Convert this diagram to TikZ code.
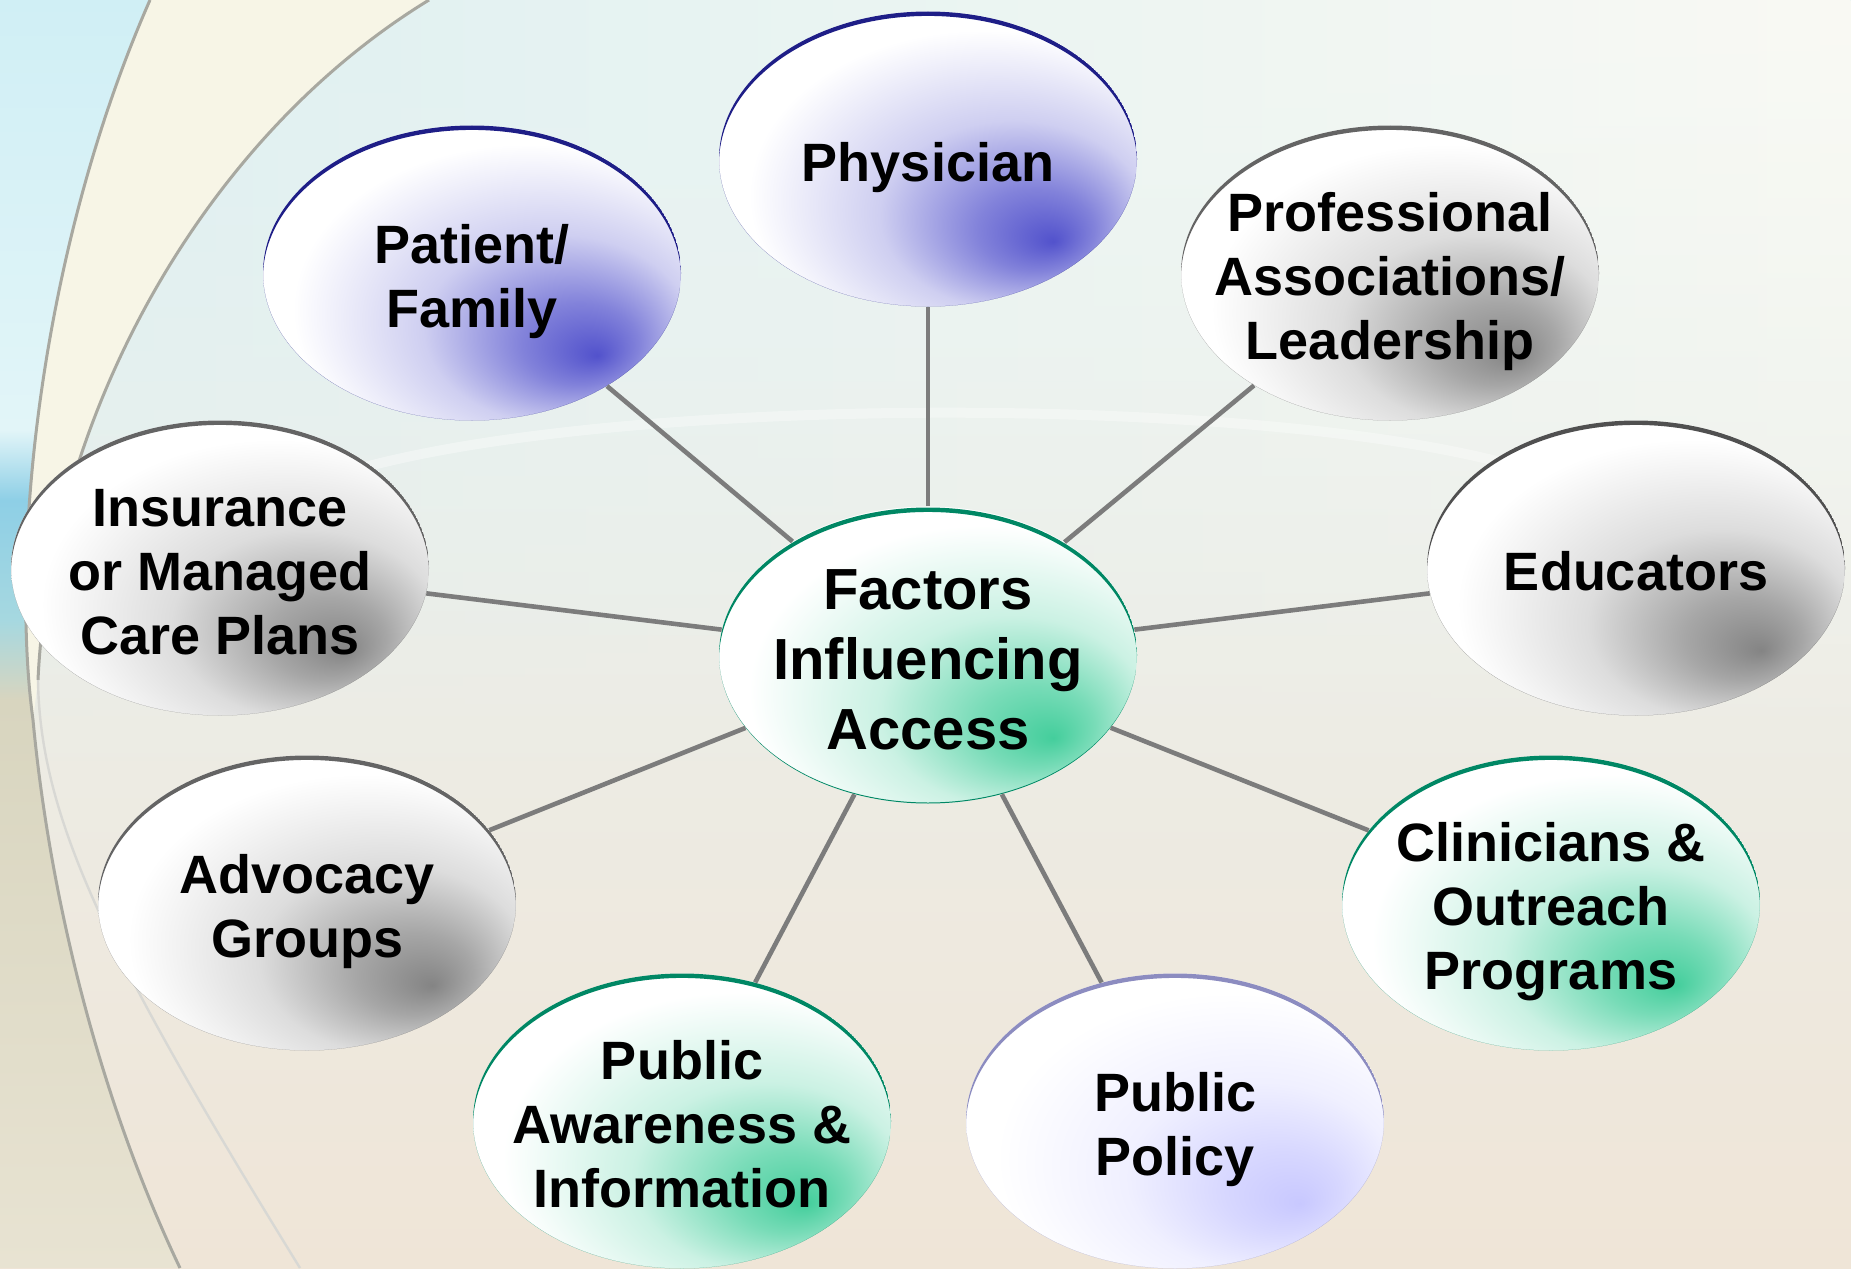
\documentclass[tikz,border=0pt]{standalone}
\usepackage{fontspec}
\setmainfont{Liberation Sans}
\usepackage{tikz}
\usetikzlibrary{shapes.geometric,calc,fadings}

\definecolor{navyedge}{RGB}{30,30,135}
\definecolor{bluespot}{RGB}{82,82,204}
\definecolor{grayedge}{RGB}{100,100,100}
\definecolor{grayspot}{RGB}{132,132,132}
\definecolor{greenedge}{RGB}{0,135,100}
\definecolor{greenspot}{RGB}{68,206,156}
\definecolor{lavedge}{RGB}{140,140,192}
\definecolor{lavspot}{RGB}{200,200,255}
\definecolor{linkgray}{RGB}{124,124,124}
\definecolor{bgtop}{RGB}{234,245,246}
\definecolor{bgmid}{RGB}{242,243,236}
\definecolor{bgbeige}{RGB}{239,229,215}
\definecolor{bgcyan}{RGB}{220,239,241}
\definecolor{bgcream}{RGB}{250,250,243}
\definecolor{stripcyan}{RGB}{208,239,245}
\definecolor{strippale}{RGB}{226,245,248}
\definecolor{stripblue}{RGB}{142,207,230}
\definecolor{stripteal}{RGB}{166,216,224}
\definecolor{striptan}{RGB}{216,213,191}
\definecolor{striplight}{RGB}{232,227,210}
\definecolor{arccream}{RGB}{247,245,230}
\definecolor{arcgray}{RGB}{168,168,160}

\pgfdeclareradialshading{bluefade}{\pgfpoint{15bp}{-14bp}}{color(0bp)=(bluespot); color(7bp)=(bluespot!72!white); color(16bp)=(bluespot!28!white); color(28bp)=(white); color(50bp)=(white)}
\pgfdeclareradialshading{grayfade}{\pgfpoint{15bp}{-14bp}}{color(0bp)=(grayspot); color(7bp)=(grayspot!72!white); color(16bp)=(grayspot!28!white); color(28bp)=(white); color(50bp)=(white)}
\pgfdeclareradialshading{greenfade}{\pgfpoint{15bp}{-14bp}}{color(0bp)=(greenspot); color(7bp)=(greenspot!72!white); color(16bp)=(greenspot!28!white); color(28bp)=(white); color(50bp)=(white)}
\pgfdeclareradialshading{lavfade}{\pgfpoint{15bp}{-14bp}}{color(0bp)=(lavspot); color(7bp)=(lavspot!72!white); color(16bp)=(lavspot!28!white); color(28bp)=(white); color(50bp)=(white)}
\tikzfading[name=fadedown, top color=transparent!0, bottom color=transparent!100]

\newcommand{\factortext}[1]{\raisebox{-5pt}[\height][\depth]{\makebox[0pt]{\begin{tabular}{@{}c@{}}#1\end{tabular}}}}

\tikzset{
  factor/.style={ellipse, minimum width=209pt, minimum height=147.5pt,
    inner sep=0pt, font=\bfseries\fontsize{27pt}{32pt}\selectfont},
  bubble/.style 2 args={factor, shade, shading=#1, path picture={
    \fill[#2, even odd rule] (path picture bounding box.center) ellipse (104.5pt and 73.75pt)
      ($(path picture bounding box.center)!0.03!(path picture bounding box.south)$) ellipse (104.5pt and 73.75pt);}},
  hub/.style={bubble={greenfade}{greenedge}, font=\bfseries\fontsize{29pt}{35pt}\selectfont},
  link/.style={draw=linkgray, line width=2.3pt},
}

\begin{document}
\begin{tikzpicture}[x=0.5pt,y=0.5pt,yscale=-1,xscale=1]
\useasboundingbox (0,0) rectangle (1851,1268);

%Background
\begin{scope}
\clip (0,0) rectangle (1851,1268);
\shade[top color=bgtop, middle color=bgmid, bottom color=bgbeige] (0,0) rectangle (1851,1268);
\shade[left color=bgcyan, right color=bgcream, path fading=fadedown] (0,0) rectangle (1851,760);
\draw[white, line width=5pt, opacity=0.35] (354,470) .. controls (620,395) and (1240,395) .. (1500,462);
%Left strip
\begin{scope}
\clip (0,0) -- (150,0) .. controls (40,250) and (10,550) .. (33,720) .. controls (50,900) and (100,1100) .. (180,1268) -- (0,1268) -- cycle;
\shade[top color=stripcyan, bottom color=strippale] (0,0) rectangle (200,430);
\shade[top color=strippale, bottom color=stripblue] (0,430) rectangle (200,500);
\shade[top color=stripblue, bottom color=stripteal] (0,500) rectangle (200,620);
\shade[top color=stripteal, bottom color=striptan] (0,620) rectangle (200,700);
\shade[top color=striptan, bottom color=striplight] (0,700) rectangle (200,1268);
\end{scope}
%Crescent between the arcs
\fill[arccream] (150,0) .. controls (40,250) and (10,550) .. (33,720) -- (38,680) .. controls (50,420) and (200,140) .. (429,0) -- cycle;
%Curve Lines
\draw[arcgray, line width=1.5pt] (150,0) .. controls (40,250) and (10,550) .. (33,720) .. controls (50,900) and (100,1100) .. (180,1268);
\draw[arcgray, line width=1.5pt] (429,0) .. controls (200,140) and (50,420) .. (38,680);
\draw[arcgray!45, line width=1.2pt] (38,680) .. controls (40,820) and (110,960) .. (300,1268);
\end{scope}

%Shape: Ellipse, centre
\node[hub] (ctr) at (928,655) {\factortext{Factors\\Influencing\\Access}};
%Shape: Ellipse, top row
\node[bubble={bluefade}{navyedge}] (phys) at (928,159) {\factortext{Physician}};
\node[bubble={bluefade}{navyedge}] (pat) at (472,273) {\factortext{Patient/\\Family}};
\node[bubble={grayfade}{grayedge}] (prof) at (1390,273) {\factortext{Professional\\Associations/\\Leadership}};
%Shape: Ellipse, middle row
\node[bubble={grayfade}{grayedge}] (ins) at (220,568) {\factortext{Insurance\\or Managed\\Care Plans}};
\node[bubble={grayfade}{grayedge!80!black}] (edu) at (1636,568) {\factortext{Educators}};
\node[bubble={grayfade}{grayedge}] (adv) at (307,903) {\factortext{Advocacy\\Groups}};
\node[bubble={greenfade}{greenedge}] (clin) at (1551,903) {\factortext{Clinicians \&\\Outreach\\Programs}};
%Shape: Ellipse, bottom row
\node[bubble={greenfade}{greenedge}] (pai) at (682,1121) {\factortext{Public\\Awareness \&\\Information}};
\node[bubble={lavfade}{lavedge}] (pol) at (1175,1121) {\factortext{Public\\Policy}};

%Straight Lines
\draw[link] (ctr) -- (phys);
\draw[link] (ctr) -- (pat);
\draw[link] (ctr) -- (prof);
\draw[link] (ctr) -- (ins);
\draw[link] (ctr) -- (edu);
\draw[link] (ctr) -- (adv);
\draw[link] (ctr) -- (clin);
\draw[link] (ctr) -- (pai);
\draw[link] (ctr) -- (pol);

\end{tikzpicture}
\end{document}
